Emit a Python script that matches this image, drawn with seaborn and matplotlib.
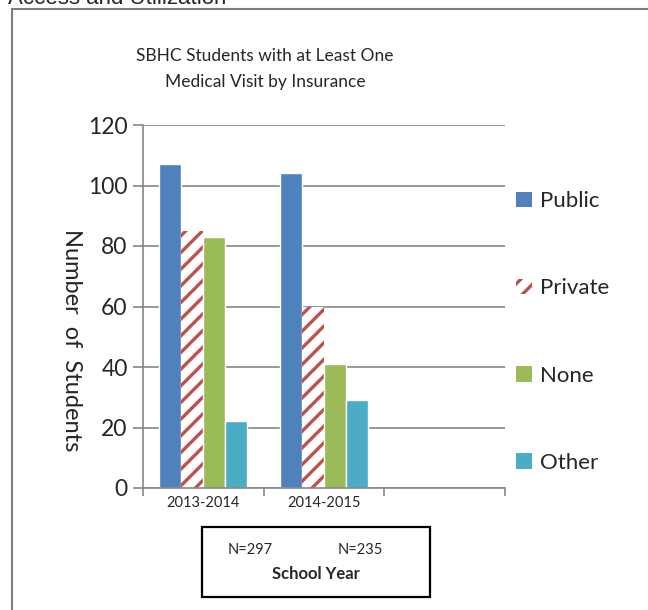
import pandas as pd
import numpy as np
import matplotlib
matplotlib.use('Agg')
import matplotlib.pyplot as plt
import matplotlib.patches as mpatches
import seaborn as sns

# Data
years = ['2013-2014', '2014-2015']
insurance = ['Public', 'Private', 'None', 'Other']
public = [107, 104]
private = [85, 60]
none = [83, 41]
other = [22, 29]
sample_sizes = ['N=297', 'N=235']

colors = ['#4F81BD', '#C0504D', '#9BBB59', '#4BACC6']

data = pd.DataFrame({
    'year': years * 4,
    'insurance': np.repeat(insurance, len(years)),
    'students': public + private + none + other,
})

sns.set_style('white')
plt.rcParams['font.family'] = ['Lato', 'DejaVu Sans']
plt.rcParams['hatch.linewidth'] = 2.4

W, H = 648, 610
fig = plt.figure(figsize=(W / 100, H / 100), dpi=100)
ax = fig.add_axes([143 / W, 1 - 488 / H, (505 - 143) / W, (488 - 125) / H])

sns.barplot(data=data, x='year', y='students', hue='insurance',
            order=years + [''], hue_order=insurance, palette=colors,
            saturation=1, width=0.727, gap=0, legend=False, ax=ax)

# Private series: red diagonal stripes on white
for bar in ax.containers[1]:
    bar.set_facecolor('white')
    bar.set_edgecolor('#C0504D')
    bar.set_hatch('//')
    bar.set_linewidth(0)

ax.set_xlim(-0.5, 2.5)
ax.set_ylim(0, 120)
ax.set_yticks(range(0, 121, 20))
ax.yaxis.grid(True, color='#868686', linewidth=1.2)
ax.set_axisbelow(True)
for side in ['top', 'right']:
    ax.spines[side].set_visible(False)
for side in ['left', 'bottom']:
    ax.spines[side].set_color('#868686')
    ax.spines[side].set_linewidth(1.2)

ax.tick_params(axis='y', which='major', left=True, length=7, width=1.2,
               color='#868686', labelsize=16.5, pad=4)
ax.set_xticks([0, 1, 2])
ax.set_xticklabels(years + [''])
ax.set_xticks([-0.5, 0.5, 1.5, 2.5], minor=True)
ax.tick_params(axis='x', which='major', length=0, labelsize=10.5, pad=6)
ax.tick_params(axis='x', which='minor', bottom=True, length=6, width=1.2,
               color='#868686')
ax.set_xlabel('')
ax.set_ylabel('Number  of  Students', fontsize=17, rotation=270,
              labelpad=0)
ax.yaxis.set_label_coords(-82 / (505 - 143), (488 - 340) / (488 - 125))

# Title
fig.text(265 / W, 1 - 69 / H, 'SBHC Students with at Least One\nMedical Visit by Insurance',
         ha='center', va='center', fontsize=12.5, linespacing=1.75)

# Legend
handles = []
for name, col in zip(insurance, colors):
    if name == 'Private':
        handles.append(mpatches.Patch(facecolor='white', edgecolor=col,
                                      hatch='//', linewidth=0, label=name))
    else:
        handles.append(mpatches.Patch(facecolor=col, linewidth=0, label=name))
fig.legend(handles=handles, loc='center left',
           bbox_to_anchor=(496 / W, 1 - 332 / H), frameon=False,
           fontsize=16, handlelength=0.7, handleheight=0.7,
           handletextpad=0.4, labelspacing=3.02)

# Box with sample sizes and axis title
fig.patches.append(mpatches.Rectangle((202 / W, 1 - 597 / H), 228 / W, 70 / H,
                                      transform=fig.transFigure, fill=False,
                                      edgecolor='black', linewidth=1.6))
fig.text(250 / W, 1 - 550 / H, sample_sizes[0], ha='center', va='center', fontsize=10.5)
fig.text(360 / W, 1 - 550 / H, sample_sizes[1], ha='center', va='center', fontsize=10.5)
fig.text(316 / W, 1 - 574 / H, 'School Year', ha='center', va='center',
         fontsize=12, fontweight='bold')

# Outer chart border, cut off at right and bottom
fig.patches.append(mpatches.Rectangle((12 / W, -0.05), 1.1, 1 - 9 / H + 0.05,
                                      transform=fig.transFigure, fill=False,
                                      edgecolor='#7F7F7F', linewidth=1.5))

# Page heading, mostly cut off at the top (as in the reference)
fig.text(8 / W, 1 - 4 / H, 'Access and Utilization', ha='left', va='baseline',
         fontsize=16, family=['Liberation Sans', 'DejaVu Sans'])

fig.savefig('out.png', dpi=100)
